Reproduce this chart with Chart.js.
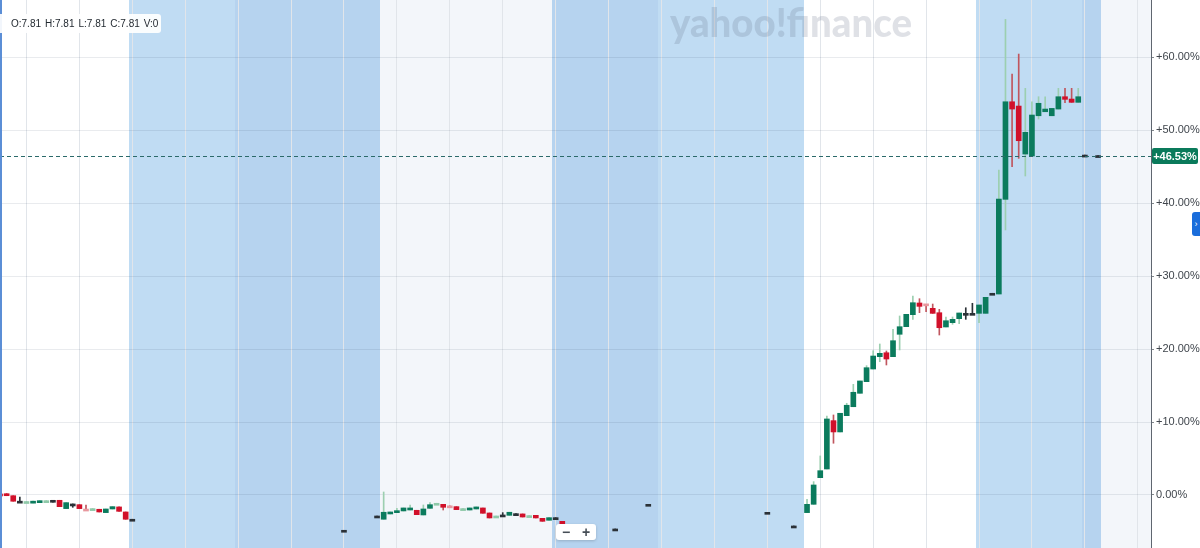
<!DOCTYPE html>
<html>
<head>
<meta charset="utf-8">
<script src="https://cdn.jsdelivr.net/npm/chart.js@4.4.1/dist/chart.umd.min.js"></script>
<style>
    body { margin: 0; background: #fff; }
    #wrap { position: relative; width: 1200px; height: 548px; overflow: hidden; font-family: 'Liberation Sans', Arial, sans-serif; }
    canvas { display: block; }
    #ohlc { position: absolute; left: 0; top: 14px; height: 19px; line-height: 19px; padding: 0 3px 0 11px; background: rgba(255,255,255,0.92); border-radius: 0 3px 3px 0; font-size: 10px; color: #232a31; white-space: nowrap; }
    #ohlc span { margin-right: 4px; }
    #ohlc span:last-child { margin-right: 0; }
    #zoomBtns { position: absolute; left: 556px; top: 524px; width: 40px; height: 16px; background: #fff; border-radius: 3px; box-shadow: 0 1px 3px rgba(0,0,0,0.18); display: flex; font-weight: bold; font-size: 14px; line-height: 16px; color: #464e56; }
    #zoomBtns span { flex: 1; text-align: center; }
    #edgeTab { position: absolute; left: 1192px; top: 212px; width: 8px; height: 24px; background: #1a6ddb; border-radius: 3px 0 0 3px; color: #fff; font-size: 9px; line-height: 24px; text-align: center; }
    #leftEdge { position: absolute; left: 0; top: 0; width: 2px; height: 548px; background: #5b8ed6; }
</style>
</head>
<body>
<div id="wrap">
    <canvas id="priceChart" width="1200" height="548"></canvas>
    <div id="leftEdge"></div>
    <div id="ohlc"><span>O:7.81</span><span>H:7.81</span><span>L:7.81</span><span>C:7.81</span><span>V:0</span></div>
    <div id="zoomBtns"><span>−</span><span>+</span></div>
    <div id="edgeTab">›</div>
</div>
<script>
// trading days shown and the 15 minute slots each one covers
const dayNames = ['D1', 'D2', 'D3', 'D4'];
const dayFirstSlot = ['11:00', '04:00', '04:00', '04:00'];
const dayLastSlot = ['19:45', '19:45', '19:45', '06:30'];

// percent change ticks on the right axis
const yTicks = [0, 10, 20, 30, 40, 50, 60];

// candles (percent change vs. reference close)
const candleTimes = [
    'D1 11:00', 'D1 11:15', 'D1 11:30', 'D1 11:45', 'D1 12:00', 'D1 12:15', 'D1 12:30', 'D1 12:45', 'D1 13:00', 'D1 13:15',
    'D1 13:30', 'D1 13:45', 'D1 14:00', 'D1 14:15', 'D1 14:30', 'D1 14:45', 'D1 15:00', 'D1 15:15', 'D1 15:30', 'D1 15:45',
    'D1 16:00',
    'D2 08:00', 'D2 09:15', 'D2 09:30', 'D2 09:45', 'D2 10:00', 'D2 10:15', 'D2 10:30', 'D2 10:45', 'D2 11:00', 'D2 11:15',
    'D2 11:30', 'D2 11:45', 'D2 12:00', 'D2 12:15', 'D2 12:30', 'D2 12:45', 'D2 13:00', 'D2 13:15', 'D2 13:30', 'D2 13:45',
    'D2 14:00', 'D2 14:15', 'D2 14:30', 'D2 14:45', 'D2 15:00', 'D2 15:15', 'D2 15:30', 'D2 15:45', 'D2 16:00', 'D2 16:15',
    'D2 18:15', 'D2 19:30',
    'D3 08:00', 'D3 09:00', 'D3 09:30', 'D3 09:45', 'D3 10:00', 'D3 10:15', 'D3 10:30', 'D3 10:45', 'D3 11:00', 'D3 11:15',
    'D3 11:30', 'D3 11:45', 'D3 12:00', 'D3 12:15', 'D3 12:30', 'D3 12:45', 'D3 13:00', 'D3 13:15', 'D3 13:30', 'D3 13:45',
    'D3 14:00', 'D3 14:15', 'D3 14:30', 'D3 14:45', 'D3 15:00', 'D3 15:15', 'D3 15:30', 'D3 15:45', 'D3 16:00', 'D3 16:15',
    'D3 16:30', 'D3 16:45', 'D3 17:00', 'D3 17:15', 'D3 17:30', 'D3 17:45', 'D3 18:00', 'D3 18:15', 'D3 18:30', 'D3 18:45',
    'D3 19:00', 'D3 19:15', 'D3 19:30', 'D3 19:45',
    'D4 04:00', 'D4 04:30'
];
const opens = [
    0.10, 0.15, -0.10, -0.85, -0.92, -1.10, -1.00, -0.80, -0.73, -0.73,
    -1.87, -1.23, -1.33, -1.93, -1.89, -1.96, -2.42, -1.92, -1.64, -2.33,
    -3.33,
    -4.84, -2.88, -3.33, -2.60, -2.42, -2.19, -2.06, -2.10, -2.74, -1.83,
    -1.16, -1.28, -1.49, -1.60, -1.89, -2.06, -1.92, -1.78, -2.47, -2.90,
    -2.74, -2.79, -2.56, -2.60, -2.85, -2.79, -3.20, -3.47, -3.11, -3.61,
    -4.66, -1.28,
    -2.38, -4.25, -2.42, -1.28, 2.37, 3.56, 10.19, 8.64, 10.87, 12.10,
    13.94, 15.53, 17.27, 18.96, 19.50, 18.96, 22.03, 23.07, 24.72, 26.32,
    25.97, 25.59, 24.99, 23.03, 23.62, 24.17, 24.90, 24.90, 24.90, 24.90,
    27.65, 27.55, 40.53, 53.91, 53.32, 46.74, 46.47, 51.99, 52.54, 51.99,
    52.91, 54.60, 54.28, 53.83,
    46.60, 46.53
];
const highs = [
    0.10, 0.20, -0.10, -0.30, -0.90, -0.85, -0.78, -0.78, -0.73, -0.73,
    -1.05, -1.23, -1.33, -1.40, -1.87, -1.96, -1.92, -1.60, -1.64, -2.33,
    -3.33,
    -4.84, -2.88, 0.41, -2.33, -1.83, -1.78, -1.37, -2.10, -1.37, -1.05,
    -1.14, -1.28, -1.49, -1.60, -1.87, -1.78, -1.64, -1.78, -2.47, -2.88,
    -2.42, -2.37, -2.56, -2.60, -2.83, -2.79, -3.20, -3.11, -3.11, -3.61,
    -4.66, -1.28,
    -2.38, -4.25, -0.59, 1.83, 5.35, 10.83, 10.97, 11.20, 12.57, 15.17,
    15.63, 17.73, 19.78, 20.70, 19.74, 22.71, 24.54, 24.77, 27.28, 26.91,
    25.97, 26.18, 25.45, 24.40, 24.40, 24.95, 25.67, 26.28, 26.05, 27.10,
    27.65, 44.55, 65.20, 57.71, 60.45, 55.75, 53.91, 54.60, 54.60, 53.00,
    55.75, 55.75, 55.75, 55.75,
    46.60, 46.53
];
const lows = [
    0.00, -0.10, -0.86, -0.85, -0.92, -1.10, -1.00, -0.80, -1.00, -1.60,
    -1.87, -1.69, -1.87, -1.95, -1.89, -2.33, -2.42, -1.92, -2.24, -3.33,
    -3.33,
    -4.84, -2.88, -3.33, -2.60, -2.42, -2.19, -2.06, -2.70, -2.74, -1.83,
    -1.16, -2.06, -1.51, -2.01, -1.89, -2.06, -1.92, -2.51, -3.15, -2.90,
    -2.74, -2.79, -2.56, -3.02, -2.85, -3.15, -3.61, -3.47, -3.11, -4.07,
    -4.66, -1.28,
    -2.38, -4.25, -2.42, -1.28, 2.37, 3.56, 7.09, 8.64, 10.87, 12.10,
    13.94, 15.53, 17.27, 18.27, 17.82, 18.96, 19.88, 23.07, 24.08, 24.99,
    25.13, 24.90, 21.93, 23.03, 23.40, 23.48, 24.08, 24.90, 23.62, 24.90,
    27.65, 27.55, 36.33, 45.00, 46.15, 43.73, 46.47, 51.54, 52.54, 51.99,
    52.91, 53.78, 53.83, 53.83,
    46.60, 46.53
];
const closes = [
    0.00, -0.10, -0.86, -0.85, -0.90, -0.85, -0.78, -0.78, -0.73, -1.60,
    -1.05, -1.23, -1.87, -1.95, -1.87, -2.33, -1.92, -1.60, -2.24, -3.33,
    -3.33,
    -4.84, -2.88, -2.37, -2.33, -2.15, -1.78, -1.78, -2.70, -1.92, -1.33,
    -1.14, -1.69, -1.51, -2.01, -1.87, -1.78, -1.64, -2.51, -3.15, -2.88,
    -2.74, -2.37, -2.56, -3.02, -2.83, -3.15, -3.61, -3.11, -3.11, -4.07,
    -4.66, -1.28,
    -2.38, -4.25, -1.28, 1.37, 3.33, 10.42, 8.64, 11.20, 12.30, 14.08,
    15.63, 17.45, 19.05, 19.42, 18.64, 21.15, 23.07, 24.77, 26.36, 25.86,
    25.93, 24.90, 22.93, 23.89, 24.08, 24.95, 24.90, 24.90, 26.05, 27.10,
    27.65, 40.57, 53.91, 52.91, 48.57, 49.72, 52.09, 53.70, 52.91, 53.00,
    54.60, 54.24, 53.83, 54.60,
    46.60, 46.53
];

document.addEventListener('DOMContentLoaded', function() {
    function toMin(t) {
        var p = t.split(':');
        return parseInt(p[0], 10) * 60 + parseInt(p[1], 10);
    }
    function two(n) { return String(n).padStart(2, '0'); }

    // one category per 15 minute slot
    var slotLabels = [];
    dayNames.forEach(function(d, k) {
        for (var m = toMin(dayFirstSlot[k]); m <= toMin(dayLastSlot[k]); m += 15) {
            slotLabels.push(d + ' ' + two(Math.floor(m / 60)) + ':' + two(m % 60));
        }
    });

    function sessionOf(time) {
        var m = toMin(time);
        if (m < toMin('09:30')) return 'pre';
        if (m >= toMin('16:00')) return 'post';
        return 'regular';
    }

    var lastSlot = slotLabels.indexOf(candleTimes[candleTimes.length - 1]);

    // pre / post market shading, alternate days slightly darker
    var sessionBands = {
        id: 'sessionBands',
        beforeDraw: function(chart) {
            var ctx = chart.ctx, a = chart.chartArea, x = chart.scales.x;
            var step = x.getPixelForValue(1) - x.getPixelForValue(0);
            ctx.save();
            ctx.beginPath();
            ctx.rect(a.left, a.top, a.right - a.left, a.bottom - a.top);
            ctx.clip();
            slotLabels.forEach(function(lab, i) {
                var parts = lab.split(' ');
                var alt = dayNames.indexOf(parts[0]) % 2 === 1;
                var ext = i <= lastSlot && sessionOf(parts[1]) !== 'regular';
                ctx.fillStyle = ext ? (alt ? '#b6d3ef' : '#c0dcf3') : (alt ? '#f3f6fa' : '#ffffff');
                var c = x.getPixelForValue(i);
                var l = Math.round(c - step / 2), r = Math.round(c + step / 2);
                ctx.fillRect(l, a.top, r - l, a.bottom - a.top);
            });
            ctx.restore();
        }
    };

    var watermark = {
        id: 'watermark',
        beforeDatasetsDraw: function(chart) {
            var ctx = chart.ctx;
            var text = 'yahoo!finance';
            ctx.save();
            ctx.font = '900 40px Lato, sans-serif';
            var w = ctx.measureText(text).width;
            ctx.fillStyle = 'rgba(95, 105, 130, 0.2)';
            ctx.textBaseline = 'alphabetic';
            ctx.translate(670, 37);
            ctx.scale(242 / w, 1);
            ctx.fillText(text, 0, 0);
            ctx.restore();
        }
    };

    // dashed line and tag for the last value
    var lastPrice = {
        id: 'lastPrice',
        afterDraw: function(chart) {
            var ctx = chart.ctx, a = chart.chartArea, y = chart.scales.y;
            var v = closes[closes.length - 1];
            var py = Math.round(y.getPixelForValue(v)) + 0.5;
            ctx.save();
            ctx.strokeStyle = '#2b6a6a';
            ctx.lineWidth = 1;
            ctx.setLineDash([4, 3]);
            ctx.beginPath();
            ctx.moveTo(a.left, py);
            ctx.lineTo(a.right, py);
            ctx.stroke();
            ctx.setLineDash([]);
            ctx.fillStyle = '#0a7a5b';
            ctx.beginPath();
            ctx.roundRect(a.right + 1, py - 8.5, 46, 16, 2);
            ctx.fill();
            ctx.fillStyle = '#ffffff';
            ctx.font = 'bold 11px "Liberation Sans", Arial, sans-serif';
            ctx.textAlign = 'center';
            ctx.textBaseline = 'middle';
            ctx.fillText((v > 0 ? '+' : '') + v.toFixed(2) + '%', a.right + 24, py + 0.5);
            ctx.restore();
        }
    };

    function bodyColor(context) {
        var i = context.dataIndex, o = opens[i], c = closes[i];
        if (o === c) return '#2b3137';
        var faint = Math.abs(c - o) < 0.05;
        if (c > o) return faint ? '#8fc9a9' : '#0b7b5d';
        return faint ? '#e8979e' : '#d1102a';
    }
    function wickColor(context) {
        var i = context.dataIndex, o = opens[i], c = closes[i];
        if (o === c) return '#2b3137';
        return c > o ? '#9ccfb0' : '#c0565e';
    }

    var ctx = document.getElementById('priceChart').getContext('2d');
    new Chart(ctx, {
        type: 'bar',
        data: {
            labels: slotLabels,
            datasets: [{
                label: 'Body',
                data: candleTimes.map(function(t, i) { return { x: t, y: [opens[i], closes[i]] }; }),
                backgroundColor: bodyColor,
                borderWidth: 0,
                barThickness: 5,
                minBarLength: 2,
                grouped: false
            }, {
                label: 'Wick',
                data: candleTimes.map(function(t, i) { return { x: t, y: [lows[i], highs[i]] }; }),
                backgroundColor: wickColor,
                borderWidth: 0,
                barThickness: 1,
                grouped: false
            }]
        },
        options: {
            responsive: false,
            animation: false,
            events: [],
            layout: { padding: 0 },
            plugins: {
                legend: { display: false },
                tooltip: { enabled: false }
            },
            scales: {
                x: {
                    type: 'category',
                    offset: false,
                    grid: {
                        offset: false,
                        drawTicks: false,
                        color: function(c) {
                            var lab = slotLabels[c.index];
                            if (!lab) return 'rgba(0,0,0,0)';
                            var t = lab.split(' ')[1];
                            return (t.slice(3) === '00' && parseInt(t, 10) % 2 === 0) ? '#e1e5ea' : 'rgba(0,0,0,0)';
                        }
                    },
                    border: { display: false },
                    ticks: { display: false, autoSkip: false }
                },
                y: {
                    position: 'right',
                    min: -7.27,
                    max: 67.86,
                    afterFit: function(s) {
                        s.width = 49;
                        s.paddingTop = 0;
                        s.paddingBottom = 0;
                    },
                    afterBuildTicks: function(s) {
                        s.ticks = yTicks.map(function(v) { return { value: v }; });
                    },
                    grid: {
                        color: 'rgba(40, 60, 90, 0.1)',
                        tickLength: 3,
                        tickColor: '#80868b'
                    },
                    border: { display: true, color: '#5f6670', width: 1 },
                    ticks: {
                        padding: 2,
                        color: '#40464d',
                        font: { size: 11, family: "'Liberation Sans', Arial, sans-serif" },
                        callback: function(v) {
                            return (v > 0 ? '+' : '') + Number(v).toFixed(2) + '%';
                        }
                    }
                }
            }
        },
        plugins: [sessionBands, watermark, lastPrice]
    });
});
</script>
</body>
</html>
